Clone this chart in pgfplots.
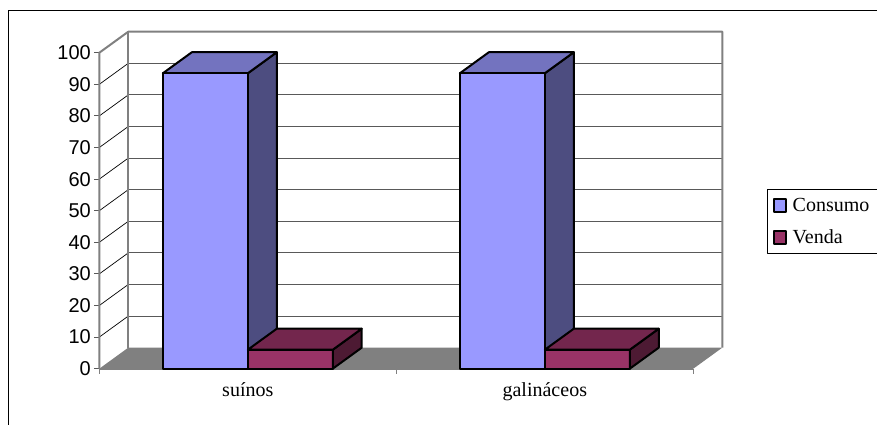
\documentclass[border=0pt]{standalone}
\usepackage{fontspec}
\setmainfont{Liberation Serif}
\newfontfamily\arialfont{Liberation Sans}
\usepackage{pgfplots}
\pgfplotsset{compat=1.18}
\definecolor{cons}{HTML}{9999FF}
\definecolor{constop}{HTML}{7373BF}
\definecolor{consside}{HTML}{4D4D80}
\definecolor{vend}{HTML}{993366}
\definecolor{vendtop}{HTML}{73264D}
\definecolor{vendside}{HTML}{4D1A33}
\definecolor{wallgray}{HTML}{808080}
\begin{document}
\begin{tikzpicture}[x=1pt,y=1pt]
\useasboundingbox (0,0) rectangle (877,425);
\begin{axis}[
    at={(99.3pt,56.3pt)},
    anchor=south west,
    scale only axis,
    width=623pt,
    height=337pt,
    xmin=0, xmax=2.0976,
    ymin=0, ymax=106.66,
    clip=false,
    no markers,
    line join=round,
    axis x line*=bottom,
    axis y line*=left,
    x axis line style={draw=none},
    y axis line style={draw=none},
    tick align=outside,
    xtick={0.5,1.5},
    xticklabels={su\'{\i}nos,galin\'aceos},
    ytick={0,10,...,100},
    major tick length=5pt,
    y tick style={draw=black!65,line width=1pt},
    x tick style={draw=none},
    tick label style={font=\fontsize{20}{22}\selectfont},
    y tick label style={font=\fontsize{20}{22}\selectfont\arialfont,/pgf/number format/assume math mode=true},
    x tick label style={yshift=-5pt},
    legend style={
        at={(1.0718,0.5332)},
        anchor=north west,
        draw=black,
        line width=0.8pt,
        font=\fontsize{20}{22}\selectfont,
        inner xsep=6pt,
        inner ysep=6.5pt,
        cells={anchor=west},
        row sep=13pt,
    },
    legend image code/.code={
        \draw[#1,line width=1.6pt] (0pt,-6.5pt) rectangle (12pt,6.5pt);
        \path (15.5pt,0pt);
    },
]
% floor and back wall
\addplot[fill=wallgray,draw=none,forget plot] coordinates {(0,0)(2,0)(2.0976,6.66)(0.0976,6.66)} --cycle;
% category separators below the floor
\addplot[wallgray,line width=1.2pt,forget plot] coordinates {(0,0)(0,-1.6)};
\addplot[wallgray,line width=1.2pt,forget plot] coordinates {(1,0)(1,-1.6)};
\addplot[wallgray,line width=1.2pt,forget plot] coordinates {(2,0)(2,-1.6)};
% grid lines on the side wall
\addplot[black,line width=0.7pt,forget plot] coordinates {(0,10)(0.0976,16.66)};
\addplot[black,line width=0.7pt,forget plot] coordinates {(0,20)(0.0976,26.66)};
\addplot[black,line width=0.7pt,forget plot] coordinates {(0,30)(0.0976,36.66)};
\addplot[black,line width=0.7pt,forget plot] coordinates {(0,40)(0.0976,46.66)};
\addplot[black,line width=0.7pt,forget plot] coordinates {(0,50)(0.0976,56.66)};
\addplot[black,line width=0.7pt,forget plot] coordinates {(0,60)(0.0976,66.66)};
\addplot[black,line width=0.7pt,forget plot] coordinates {(0,70)(0.0976,76.66)};
\addplot[black,line width=0.7pt,forget plot] coordinates {(0,80)(0.0976,86.66)};
\addplot[black,line width=0.7pt,forget plot] coordinates {(0,90)(0.0976,96.66)};
% grid lines on the back wall
\addplot[black!65,line width=1pt,forget plot] coordinates {(0.0976,16.66)(2.0976,16.66)};
\addplot[black!65,line width=1pt,forget plot] coordinates {(0.0976,26.66)(2.0976,26.66)};
\addplot[black!65,line width=1pt,forget plot] coordinates {(0.0976,36.66)(2.0976,36.66)};
\addplot[black!65,line width=1pt,forget plot] coordinates {(0.0976,46.66)(2.0976,46.66)};
\addplot[black!65,line width=1pt,forget plot] coordinates {(0.0976,56.66)(2.0976,56.66)};
\addplot[black!65,line width=1pt,forget plot] coordinates {(0.0976,66.66)(2.0976,66.66)};
\addplot[black!65,line width=1pt,forget plot] coordinates {(0.0976,76.66)(2.0976,76.66)};
\addplot[black!65,line width=1pt,forget plot] coordinates {(0.0976,86.66)(2.0976,86.66)};
\addplot[black!65,line width=1pt,forget plot] coordinates {(0.0976,96.66)(2.0976,96.66)};
% wall outline
\addplot[wallgray,line width=2pt,forget plot] coordinates {(0,0)(0,100)(0.0976,106.66)(2.0976,106.66)(2.0976,6.66)};
\addplot[wallgray,line width=2pt,forget plot] coordinates {(0.0976,6.66)(0.0976,106.66)};
\addplot[wallgray,line width=2pt,forget plot] coordinates {(0,0)(2,0)};
% Consumo, side and top faces
\addplot[fill=consside,draw=black,line width=2pt,forget plot] coordinates {(0.5,0)(0.5976,6.66)(0.5976,100.16)(0.5,93.5)} --cycle;
\addplot[fill=constop,draw=black,line width=2pt,forget plot] coordinates {(0.214,93.5)(0.5,93.5)(0.5976,100.16)(0.3116,100.16)} --cycle;
\addplot[fill=consside,draw=black,line width=2pt,forget plot] coordinates {(1.5,0)(1.5976,6.66)(1.5976,100.16)(1.5,93.5)} --cycle;
\addplot[fill=constop,draw=black,line width=2pt,forget plot] coordinates {(1.214,93.5)(1.5,93.5)(1.5976,100.16)(1.3116,100.16)} --cycle;
% front faces
\addplot[ybar,bar width=0.286,bar shift=-0.143,fill=cons,draw=black,line width=2pt] coordinates {(0.5,93.5)(1.5,93.5)};
\addlegendentry{Consumo}
\addplot[ybar,bar width=0.286,bar shift=0.143,fill=vend,draw=black,line width=2pt] coordinates {(0.5,6)(1.5,6)};
\addlegendentry{Venda}
% Venda, side and top faces
\addplot[fill=vendside,draw=black,line width=2pt,forget plot] coordinates {(0.786,0)(0.8836,6.66)(0.8836,12.66)(0.786,6)} --cycle;
\addplot[fill=vendtop,draw=black,line width=2pt,forget plot] coordinates {(0.5,6)(0.786,6)(0.8836,12.66)(0.5976,12.66)} --cycle;
\addplot[fill=vendside,draw=black,line width=2pt,forget plot] coordinates {(1.786,0)(1.8836,6.66)(1.8836,12.66)(1.786,6)} --cycle;
\addplot[fill=vendtop,draw=black,line width=2pt,forget plot] coordinates {(1.5,6)(1.786,6)(1.8836,12.66)(1.5976,12.66)} --cycle;
\end{axis}
% outer chart frame, cut off by the page on the right and at the bottom
\draw[black,line width=0.8pt] (8.3,0) -- (8.3,414.7) -- (877,414.7);
\end{tikzpicture}
\end{document}
